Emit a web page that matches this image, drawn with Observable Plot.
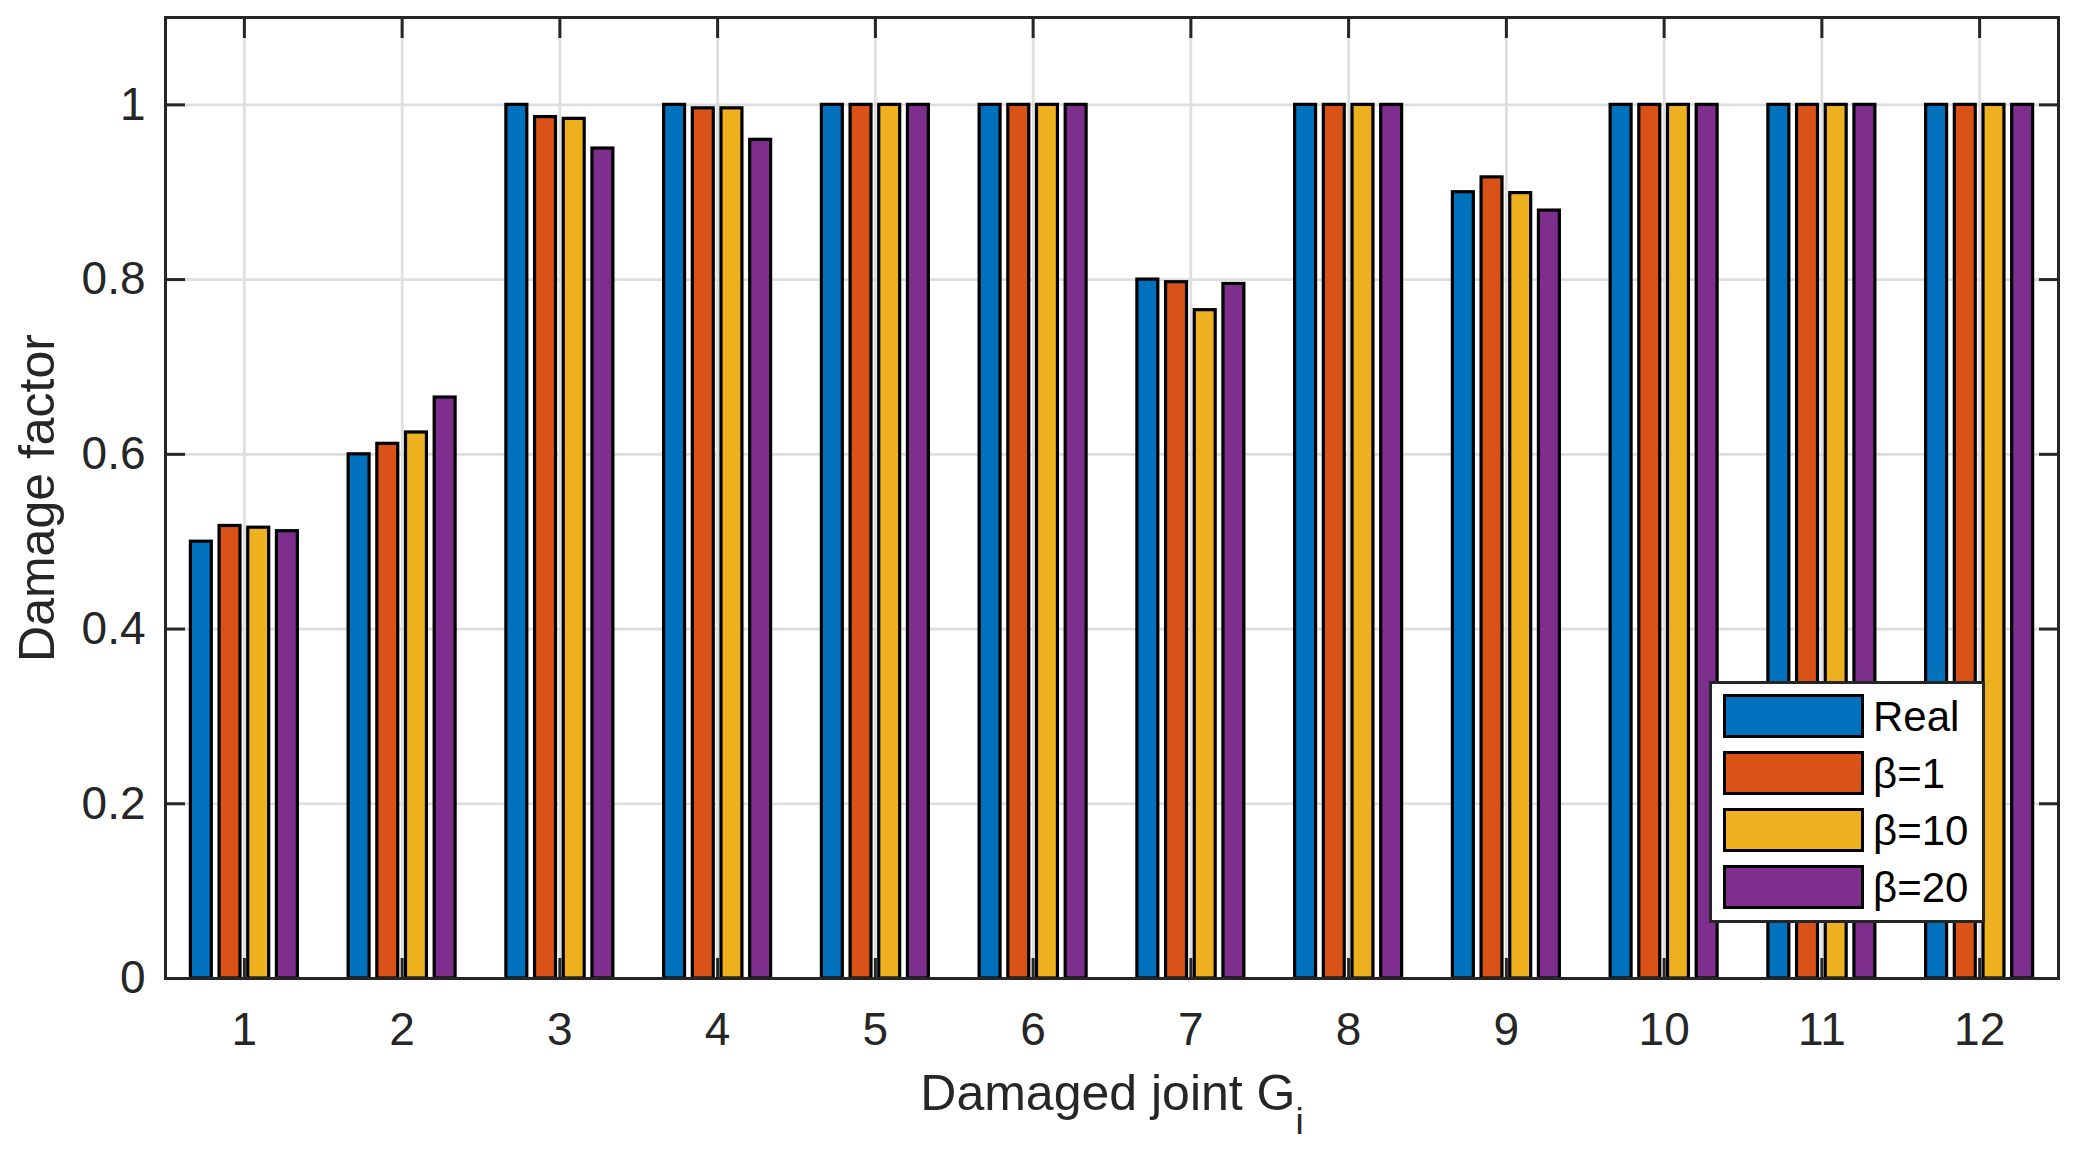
<!DOCTYPE html>
<html>
<head>
<meta charset="utf-8">
<script src="https://cdn.jsdelivr.net/npm/d3@7"></script>
<script src="https://cdn.jsdelivr.net/npm/@observablehq/plot@0.6"></script>
<style>
  html, body { margin: 0; padding: 0; background: #fff; }
  #wrap { position: relative; width: 2079px; height: 1149px; font-family: "Liberation Sans", Arial, Helvetica, sans-serif; }
  #legend { position: absolute; left: 1709px; top: 681px; box-sizing: border-box; width: 276px;
    border: 3px solid #262626; background: #fff; padding: 10px 0 11px 11px;
    display: flex; flex-direction: column; gap: 13px; }
  .row { display: flex; align-items: center; height: 44px; }
  .sw { box-sizing: border-box; width: 141px; height: 44px; border: 3px solid #000; }
  .lab { margin-left: 9px; font-size: 42px; color: #000; line-height: 44px; position: relative; top: 1px; }
</style>
</head>
<body>
<div id="wrap"></div>
<script>
// ---- data ----
const groups = [1, 2, 3, 4, 5, 6, 7, 8, 9, 10, 11, 12];
const series = ["Real", "β=1", "β=10", "β=20"];
const colors = ["#0072BD", "#D95319", "#EDB120", "#7E2F8E"];
const real   = [0.500, 0.600, 1.000, 1.000, 1, 1, 0.800, 1, 0.900, 1, 1, 1];
const beta1  = [0.518, 0.612, 0.986, 0.996, 1, 1, 0.797, 1, 0.917, 1, 1, 1];
const beta10 = [0.516, 0.625, 0.984, 0.996, 1, 1, 0.765, 1, 0.899, 1, 1, 1];
const beta20 = [0.512, 0.665, 0.950, 0.960, 1, 1, 0.795, 1, 0.879, 1, 1, 1];
const yTicks = [0, 0.2, 0.4, 0.6, 0.8, 1];
const xTicks = groups;
const xLabel = "Damaged joint G";
const xLabelSub = "i";
const yLabel = "Damage factor";

const values = [real, beta1, beta10, beta20];
const rows = [];
values.forEach((arr, s) => arr.forEach((v, i) => rows.push({g: groups[i], s, name: series[s], v})));

// grouped-bar geometry (MATLAB style, in x data units)
const groupWidth = 4 / 5.5;
const slot = groupWidth / 4;
const barW = slot * 0.73;

const axisColor = "#262626";
const gridColor = "#dedede";

const chart = Plot.plot({
  width: 2079,
  height: 1149,
  marginLeft: 165,
  marginRight: 21,
  marginTop: 17,
  marginBottom: 171,
  style: {fontFamily: '"Liberation Sans", Arial, Helvetica, sans-serif', fontSize: "46px", color: axisColor, background: "#fff"},
  x: {domain: [0.5, 12.5], label: null},
  y: {domain: [0, 1.1], label: null},
  color: {domain: series, range: colors},
  marks: [
    Plot.gridX(xTicks, {stroke: gridColor, strokeOpacity: 1, strokeWidth: 2.7}),
    Plot.gridY(yTicks, {stroke: gridColor, strokeOpacity: 1, strokeWidth: 2.7}),
    Plot.rect(rows, {
      x1: d => d.g + (d.s - 1.5) * slot - barW / 2,
      x2: d => d.g + (d.s - 1.5) * slot + barW / 2,
      y1: 0,
      y2: "v",
      fill: "name",
      stroke: "#000",
      strokeWidth: 3.2
    }),
    Plot.frame({stroke: axisColor, strokeWidth: 3}),
    Plot.axisX(xTicks, {anchor: "bottom", tickSize: -20, tickPadding: 54, strokeWidth: 3, color: axisColor, label: null, tickFormat: d => String(d)}),
    Plot.axisX(xTicks, {anchor: "top", tickSize: -20, strokeWidth: 3, color: axisColor, fill: "none", label: null, tickFormat: () => ""}),
    Plot.axisY(yTicks, {anchor: "left", tickSize: -20, tickPadding: 40, strokeWidth: 3, color: axisColor, label: null, tickFormat: d => String(d)}),
    Plot.axisY(yTicks, {anchor: "right", tickSize: -20, strokeWidth: 3, color: axisColor, fill: "none", label: null, tickFormat: () => ""}),
    Plot.text([yLabel], {text: d => d, frameAnchor: "left", rotate: -90, dx: -112, textAnchor: "middle", lineAnchor: "bottom", fontSize: 50, fill: axisColor}),
    Plot.text([xLabel], {text: d => d, frameAnchor: "bottom", dy: 131, textAnchor: "middle", lineAnchor: "bottom", fontSize: 50, fill: axisColor})
  ]
});

// subscript for the x label
chart.querySelectorAll("text").forEach(t => {
  if (t.textContent === xLabel) {
    const ts = document.createElementNS("http://www.w3.org/2000/svg", "tspan");
    ts.setAttribute("font-size", "37");
    ts.setAttribute("dy", "24");
    ts.textContent = xLabelSub;
    t.appendChild(ts);
  }
});

const wrap = document.getElementById("wrap");
wrap.appendChild(chart);

// legend inside the axes (HTML overlay)
const legend = document.createElement("div");
legend.id = "legend";
series.forEach((name, i) => {
  const row = document.createElement("div");
  row.className = "row";
  const sw = document.createElement("div");
  sw.className = "sw";
  sw.style.background = colors[i];
  const lab = document.createElement("span");
  lab.className = "lab";
  lab.textContent = name;
  row.appendChild(sw);
  row.appendChild(lab);
  legend.appendChild(row);
});
wrap.appendChild(legend);
</script>
</body>
</html>
